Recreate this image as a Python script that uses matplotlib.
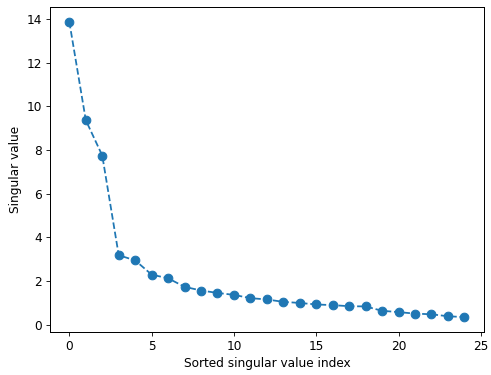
import matplotlib
matplotlib.use("Agg")
import matplotlib.pyplot as plt
import numpy as np

# singular values
idx = np.arange(25)
sing_vals = [13.88, 9.37, 7.75, 3.18, 2.94, 2.29, 2.12, 1.73, 1.56, 1.45,
             1.36, 1.21, 1.15, 1.04, 0.99, 0.92, 0.89, 0.84, 0.83, 0.63,
             0.57, 0.50, 0.47, 0.38, 0.34]

plt.rcParams["font.size"] = 11.7
plt.rcParams["xtick.major.size"] = 4.1
plt.rcParams["ytick.major.size"] = 4.1
plt.rcParams["axes.linewidth"] = 0.95

fig = plt.figure(figsize=(491 / 75, 375 / 75), dpi=75)
ax = fig.add_axes([0.101, 0.115, 0.885, 0.866])
ax.plot(idx, sing_vals, "o--", color="tab:blue", markersize=8.3, linewidth=1.7)
ax.set_xlabel("Sorted singular value index")
ax.set_ylabel("Singular value")
fig.savefig("out.png", dpi=75)
